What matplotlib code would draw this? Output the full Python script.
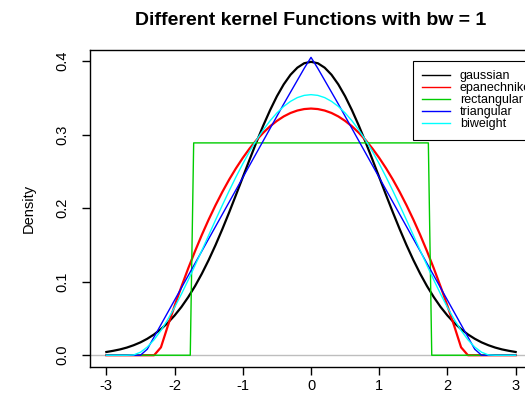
#!/usr/bin/env python3
"""
Kernel functions with bw = 1, drawn in the style of R's base graphics.
Saves out.png
"""

import matplotlib
matplotlib.use("Agg")
import matplotlib.pyplot as plt

plt.rcParams["font.family"] = ["Liberation Sans", "DejaVu Sans"]

# --- Data ---
kernels = ["gaussian", "epanechnikov", "rectangular", "triangular", "biweight"]
colors = ["black", "red", "#00cc00", "blue", "cyan"]

grid_x = [-3.0, -2.9, -2.8, -2.7, -2.6, -2.5, -2.4, -2.3, -2.2, -2.1,
          -2.0, -1.9, -1.8, -1.7, -1.6, -1.5, -1.4, -1.3, -1.2, -1.1,
          -1.0, -0.9, -0.8, -0.7, -0.6, -0.5, -0.4, -0.3, -0.2, -0.1,
          0.0, 0.1, 0.2, 0.3, 0.4, 0.5, 0.6, 0.7, 0.8, 0.9,
          1.0, 1.1, 1.2, 1.3, 1.4, 1.5, 1.6, 1.7, 1.8, 1.9,
          2.0, 2.1, 2.2, 2.3, 2.4, 2.5, 2.6, 2.7, 2.8, 2.9, 3.0]

gaussian_y = [0.0044, 0.0060, 0.0079, 0.0104, 0.0136, 0.0175, 0.0224, 0.0283,
              0.0355, 0.0440, 0.0540, 0.0656, 0.0790, 0.0940, 0.1109, 0.1295,
              0.1497, 0.1714, 0.1942, 0.2179, 0.2420, 0.2661, 0.2897, 0.3123,
              0.3332, 0.3521, 0.3683, 0.3814, 0.3910, 0.3970, 0.3989,
              0.3970, 0.3910, 0.3814, 0.3683, 0.3521, 0.3332, 0.3123, 0.2897,
              0.2661, 0.2420, 0.2179, 0.1942, 0.1714, 0.1497, 0.1295, 0.1109,
              0.0940, 0.0790, 0.0656, 0.0540, 0.0440, 0.0355, 0.0283, 0.0224,
              0.0175, 0.0136, 0.0104, 0.0079, 0.0060, 0.0044]

epan_y = [0.0, 0.0, 0.0, 0.0, 0.0, 0.0, 0.0, 0.0,
          0.0107, 0.0396, 0.0671, 0.0932, 0.1181, 0.1415, 0.1637, 0.1845,
          0.2039, 0.2220, 0.2388, 0.2542, 0.2683, 0.2811, 0.2925, 0.3025,
          0.3113, 0.3186, 0.3247, 0.3294, 0.3327, 0.3347, 0.3354,
          0.3347, 0.3327, 0.3294, 0.3247, 0.3186, 0.3113, 0.3025, 0.2925,
          0.2811, 0.2683, 0.2542, 0.2388, 0.2220, 0.2039, 0.1845, 0.1637,
          0.1415, 0.1181, 0.0932, 0.0671, 0.0396, 0.0107, 0.0, 0.0,
          0.0, 0.0, 0.0, 0.0, 0.0, 0.0]

rect_x = [-3.0, -1.77, -1.72, 1.72, 1.77, 3.0]
rect_y = [0.0, 0.0, 0.2887, 0.2887, 0.0, 0.0]

tri_x = [-3.0, -2.5, -2.4, -2.0, -1.6, -1.2, -0.8, -0.4, -0.1, 0.0,
         0.1, 0.4, 0.8, 1.2, 1.6, 2.0, 2.4, 2.5, 3.0]
tri_y = [0.0, 0.0, 0.0082, 0.0749, 0.1416, 0.2082, 0.2749, 0.3416, 0.3900,
         0.4050, 0.3900, 0.3416, 0.2749, 0.2082, 0.1416, 0.0749, 0.0082,
         0.0, 0.0]

biweight_y = [0.0, 0.0, 0.0, 0.0, 0.0004, 0.0041, 0.0111, 0.0211,
              0.0337, 0.0485, 0.0651, 0.0831, 0.1022, 0.1221, 0.1425, 0.1631,
              0.1837, 0.2039, 0.2235, 0.2424, 0.2603, 0.2771, 0.2925, 0.3064,
              0.3188, 0.3294, 0.3383, 0.3452, 0.3503, 0.3533, 0.3543,
              0.3533, 0.3503, 0.3452, 0.3383, 0.3294, 0.3188, 0.3064, 0.2925,
              0.2771, 0.2603, 0.2424, 0.2235, 0.2039, 0.1837, 0.1631, 0.1425,
              0.1221, 0.1022, 0.0831, 0.0651, 0.0485, 0.0337, 0.0211, 0.0111,
              0.0041, 0.0004, 0.0, 0.0, 0.0, 0.0]

x_ticks = [-3, -2, -1, 0, 1, 2, 3]
y_ticks = [0.0, 0.1, 0.2, 0.3, 0.4]


def main():
    fig = plt.figure(figsize=(5.25, 3.95), dpi=100)
    # plot region runs a bit past the right edge, as in the reference
    ax = fig.add_axes([0.1714, 0.0709, 0.842, 0.8025])

    ax.axhline(0, color="#bebebe", lw=1, zorder=1)

    series = [(grid_x, gaussian_y), (grid_x, epan_y), (rect_x, rect_y),
              (tri_x, tri_y), (grid_x, biweight_y)]
    widths = [1.6, 1.6, 1.0, 1.0, 1.0]
    for (xs, ys), name, col, lw in zip(series, kernels, colors, widths):
        ax.plot(xs, ys, color=col, lw=lw, label=name, zorder=2)

    ax.set_xlim(-3.24, 3.24)
    ax.set_ylim(-0.016, 0.415)
    ax.set_xticks(x_ticks)
    ax.set_xticklabels([str(t) for t in x_ticks])
    ax.set_yticks(y_ticks)
    ax.set_yticklabels([f"{t:.1f}" for t in y_ticks], rotation=90, va="center")
    ax.tick_params(direction="out", length=6, width=1, labelsize=10.5)
    ax.tick_params(axis="x", pad=3)
    ax.tick_params(axis="y", pad=9)
    for s in ax.spines.values():
        s.set_linewidth(1)

    ax.set_ylabel("Density", fontsize=10.5, labelpad=14)
    ax.set_title("Different kernel Functions with bw = 1",
                 fontsize=14, fontweight="bold", pad=18)

    leg = ax.legend(loc="upper left", bbox_to_anchor=(413 / 525, 1 - 61 / 395),
                    bbox_transform=fig.transFigure, borderaxespad=0,
                    fontsize=9, handlelength=2.2, handletextpad=0.8,
                    labelspacing=0.0, borderpad=0.75,
                    fancybox=False, framealpha=1)
    leg.get_frame().set_edgecolor("black")
    leg.get_frame().set_linewidth(0.8)
    for line in leg.get_lines():
        line.set_linewidth(1.0)

    fig.savefig("out.png", dpi=100)
    plt.close(fig)


if __name__ == "__main__":
    main()
